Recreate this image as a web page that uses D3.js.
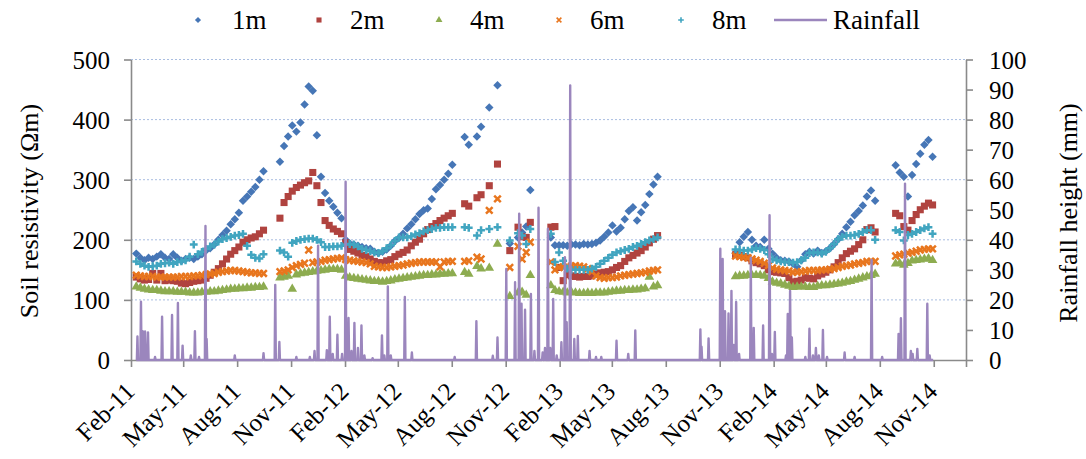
<!DOCTYPE html>
<html><head><meta charset="utf-8">
<script src="https://cdn.jsdelivr.net/npm/d3@7"></script>
</head><body style="margin:0;background:#fff">
<div style="position:relative;width:1086px;height:459px">
<svg id="chart" width="1086" height="459" style="position:absolute;left:0;top:0"></svg>
<svg id="texts" width="1086" height="459" style="position:absolute;left:0;top:0"></svg>
</div>
<script>
// ---------------- DATA ----------------
const seriesNames = ["1m", "2m", "4m", "6m", "8m"];
const startDate = "2011-02-10";   // first sampling date (weekly grid)
const stepDays = 7;
const G = n => Array(n).fill(null); // missing weeks (no measurements)
const _ = null;

const res1m = [
  177,170,166,170,168,172,176,170,168,176,170,165,168,170,168,172,176,182,186,192,200,208,215,226,234,245,265,272,280,288,300,314,
  ...G(3),
  330,356,372,390,380,395,425,455,448,374,305,278,265,255,245,236,200,194,192,190,188,186,185,180,178,180,184,190,198,203,210,219,226,234,243,249,252,268,284,291,300,310,325,
  _,_,371,358,_,372,388,_,420,_,457,_,_,194,_,204,212,222,283,_,_,_,_,204,191,191,
  191,190,192,192,191,193,192,193,195,199,205,212,224,214,220,234,248,254,232,246,258,276,292,305,
  ...G(18),
  178,196,205,213,200,190,188,200,185,177,170,166,165,164,160,155,166,176,180,177,182,178,181,186,193,201,210,221,230,241,248,257,272,282,265,
  ...G(4),
  324,312,305,272,308,326,343,358,366,338
];
const res2m = [
  138,135,133,134,144,133,144,132,133,132,131,128,127,129,131,132,133,136,141,146,152,160,168,176,182,188,196,200,203,205,210,216,
  ...G(3),
  236,262,272,281,287,291,295,298,312,290,262,232,224,218,214,210,195,184,181,178,174,172,168,164,162,162,165,167,172,176,179,183,190,196,201,210,217,222,227,232,236,240,244,
  _,_,260,256,_,270,275,_,290,_,326,_,_,182,_,221,205,204,229,_,_,_,_,221,222,154,
  132,142,140,139,138,139,139,140,143,145,146,147,150,154,157,164,170,174,178,182,188,195,201,207,
  ...G(18),
  175,174,172,170,165,162,160,157,150,147,146,145,144,137,130,131,133,137,136,135,140,143,146,150,155,162,170,177,181,185,192,200,217,220,213,
  ...G(4),
  244,240,222,216,232,242,250,256,261,258
];
const res4m = [
  122,120,118,117,116,116,115,114,114,114,113,113,113,112,112,112,113,113,114,114,115,116,117,118,118,119,119,120,120,121,121,122,
  ...G(3),
  137,138,140,118,142,144,145,146,147,148,149,150,151,151,151,150,140,137,136,135,134,133,132,131,131,130,131,132,134,135,136,137,138,139,140,141,141,142,142,143,143,144,144,
  _,_,146,143,_,156,152,_,153,_,193,_,_,106,_,112,113,108,141,_,_,_,_,124,116,114,
  113,112,113,112,111,111,112,111,112,112,112,113,114,115,115,116,116,117,117,118,119,138,122,124,
  ...G(18),
  139,140,140,141,141,141,141,140,136,130,128,127,125,123,121,122,122,122,121,121,123,124,124,125,126,127,128,130,131,133,135,137,139,141,143,
  ...G(4),
  160,161,158,161,165,166,167,168,169,166
];
const res6m = [
  141,140,139,139,139,138,138,138,138,138,138,139,139,139,140,140,141,142,143,144,146,147,148,149,149,148,147,146,145,145,144,144,
  ...G(3),
  147,148,150,154,157,159,161,183,162,163,164,166,167,168,169,170,167,166,165,164,163,162,160,156,155,154,154,155,156,157,158,160,161,162,163,163,163,163,163,155,163,164,164,
  _,_,164,165,_,171,168,_,249,_,268,_,_,154,_,189,168,179,196,_,_,_,_,163,150,154,
  155,156,156,157,156,155,152,147,140,137,136,137,137,138,140,141,142,143,144,145,146,148,149,150,
  ...G(18),
  173,172,171,170,168,166,164,161,157,153,151,150,149,148,146,146,147,148,149,149,149,150,150,151,152,154,156,157,158,160,161,162,164,164,164,
  ...G(4),
  173,175,176,178,179,181,183,184,185,185
];
const res8m = [
  164,160,157,155,156,157,160,161,162,160,163,164,166,172,192,176,180,185,189,192,197,201,203,205,207,208,210,190,175,170,169,176,
  ...G(3),
  182,179,172,195,198,200,201,202,202,200,196,188,188,189,189,190,192,193,192,189,185,183,181,179,178,181,186,191,198,204,204,204,206,209,211,214,216,218,220,220,221,221,221,
  _,_,221,220,_,207,216,_,218,_,221,_,_,199,_,211,207,193,218,_,_,_,_,210,163,179,
  165,152,150,150,150,150,150,152,155,160,165,170,175,179,181,183,185,188,190,193,196,199,201,204,
  ...G(18),
  184,183,182,182,184,186,185,183,176,168,166,164,163,163,162,163,166,170,178,179,179,177,180,186,193,201,205,207,207,208,210,213,216,216,200,
  ...G(4),
  216,213,199,208,210,213,216,219,221,210
];

// daily rainfall record: only rainy days listed, other days 0 mm
const rainStart = "2011-02-10", rainEnd = "2014-10-31";
const rainDates = ["2011-02-12","2011-02-18","2011-02-21","2011-02-25","2011-03-02","2011-03-14","2011-03-26","2011-04-12","2011-04-22","2011-04-30",
 "2011-05-14","2011-05-21","2011-05-28","2011-06-08","2011-06-10","2011-07-28","2011-09-15","2011-10-05","2011-10-12","2011-11-10",
 "2011-12-03","2011-12-11","2011-12-17","2012-01-01","2012-01-06","2012-01-11","2012-01-19","2012-01-27","2012-02-02","2012-02-07",
 "2012-02-12","2012-02-17","2012-02-23","2012-02-29","2012-03-05","2012-03-19","2012-04-04","2012-04-08","2012-04-14","2012-04-19",
 "2012-05-13","2012-05-25","2012-08-06","2012-09-12","2012-10-10","2012-10-18","2012-11-02","2012-11-17","2012-11-24","2012-11-28",
 "2012-12-04","2012-12-14","2012-12-20","2012-12-27","2013-01-03","2013-01-07","2013-01-12","2013-01-16","2013-01-21","2013-01-27",
 "2013-02-04","2013-02-10","2013-02-13","2013-02-19","2013-02-26","2013-03-04","2013-03-24","2013-04-04","2013-04-13","2013-05-09",
 "2013-05-29","2013-06-10","2013-09-29","2013-10-01","2013-10-13","2013-11-02","2013-11-06","2013-11-10","2013-11-16","2013-11-21",
 "2013-11-25","2013-11-29","2013-12-04","2013-12-24","2013-12-29","2014-01-14","2014-01-25","2014-01-29","2014-02-03","2014-02-22",
 "2014-02-25","2014-03-01","2014-03-04","2014-03-27","2014-04-03","2014-04-09","2014-04-14","2014-04-19","2014-04-26","2014-05-03",
 "2014-06-02","2014-06-19","2014-07-18","2014-08-05","2014-09-02","2014-09-06","2014-09-13","2014-09-23","2014-09-26","2014-10-04",
 "2014-10-21","2014-10-25"];
const rainMm = [7.8,19.4,9.6,9.5,9.2,1,14.4,15,19,4.8,
 1.5,9.6,1,44.6,7,1.5,2.3,25,6,1,
 1,3,38,3.3,14.4,2,8.4,2,59.3,14,
 3,12.3,4,11.5,1.5,0.6,8.2,1.5,24.5,1.5,
 21,2.5,1,12.9,1.4,7.5,30.3,25.9,48.7,18.7,
 16.7,22,3,50.7,2.5,4,43.7,4,20.3,1.5,
 5.9,34.2,12.6,91.4,7,8,3,1,1,6.4,
 2,9.8,10.2,4.4,7.2,37,33.6,16.2,15.5,23,
 5,19.3,2,34,10.7,11.5,48.2,2,9.3,1.5,
 15.3,23,7.5,1,10.4,1.5,4,1.5,10,1,
 2.5,1,33.3,1,8.7,13.9,58.7,3,2,3.7,
 18.7,1.5];

const xTickLabels = ["Feb-11","May-11","Aug-11","Nov-11","Feb-12","May-12","Aug-12","Nov-12",
  "Feb-13","May-13","Aug-13","Nov-13","Feb-14","May-14","Aug-14","Nov-14"];
const xDomain = ["2011-02-01", "2014-12-26"];
const leftTicks = [0,100,200,300,400,500];
const rightTicks = [0,10,20,30,40,50,60,70,80,90,100];
const legendLabels = ["1m","2m","4m","6m","8m","Rainfall"];

// ---------------- STYLE ----------------
const FONT = '"Liberation Serif"';
const colors = {"1m":"#4676b6","2m":"#b0433f","4m":"#8dac50","6m":"#e8761e","8m":"#41a5c0", rain:"#9b86bd"};
const plot = {left:131, right:966, top:59.5, bottom:360};
const tickFont = 25;
const axisColor = "#8a8a8a";

const parseISO = d3.utcParse("%Y-%m-%d");
const parseTick = d3.utcParse("%b-%y");

const svg = d3.select("#chart");
const tsvg = d3.select("#texts");   // text layer
const x = d3.scaleUtc().domain(xDomain.map(parseISO)).range([plot.left, plot.right]);
const yL = d3.scaleLinear().domain([0,500]).range([plot.bottom, plot.top]);
const yR = d3.scaleLinear().domain([0,100]).range([plot.bottom, plot.top]);
const tickDates = xTickLabels.map(parseTick);

// gridlines
svg.append("g").selectAll("line").data(leftTicks.filter(d=>d>0)).join("line")
  .attr("x1", plot.left).attr("x2", plot.right)
  .attr("y1", d=>yL(d)).attr("y2", d=>yL(d))
  .attr("stroke", "#a9bde0").attr("stroke-width", 1).attr("stroke-dasharray", "2,2");

// axes (lines and ticks from d3 axis generators; labels drawn on the text layer)
function styleAxis(g){
  g.attr("font-family", null).attr("font-size", null);
  g.selectAll("text").remove();
  g.select(".domain").attr("stroke", axisColor).attr("stroke-width", 1.6);
  g.selectAll(".tick line").attr("stroke", axisColor).attr("stroke-width", 1.6);
}
const gL = svg.append("g").attr("transform", `translate(${plot.left},0)`)
  .call(d3.axisLeft(yL).tickValues(leftTicks).tickSize(7).tickSizeOuter(0).tickFormat(""));
const gR = svg.append("g").attr("transform", `translate(${plot.right},0)`)
  .call(d3.axisRight(yR).tickValues(rightTicks).tickSize(7).tickSizeOuter(0).tickFormat(""));
const gB = svg.append("g").attr("transform", `translate(0,${plot.bottom})`)
  .call(d3.axisBottom(x).tickValues(tickDates.concat([x.domain()[1]])).tickSize(7).tickSizeOuter(0).tickFormat(""));
[gL, gR, gB].forEach(styleAxis);

// markers
const markerPath = {
  "1m": d3.symbol(d3.symbolSquare, 36)(),
  "2m": d3.symbol(d3.symbolSquare, 50)(),
  "4m": d3.symbol(d3.symbolTriangle, 40)(),
  "6m": "M-3.3,-3.3L3.3,3.3M-3.3,3.3L3.3,-3.3",
  "8m": "M-3.9,0H3.9M0,-3.9V3.9"
};
const markerRot = {"1m":45,"2m":0,"4m":0,"6m":0,"8m":0};
const strokeMarker = {"6m":true,"8m":true};

const start = parseISO(startDate);
const seriesData = {"1m":res1m,"2m":res2m,"4m":res4m,"6m":res6m,"8m":res8m};

seriesNames.forEach(name => {
  const pts = seriesData[name].map((v,i)=>({date:d3.utcDay.offset(start, i*stepDays), v}))
    .filter(d=>d.v !== null);
  const g = svg.append("g");
  const sel = g.selectAll("path").data(pts).join("path")
    .attr("d", markerPath[name])
    .attr("transform", d=>`translate(${x(d.date)},${yL(d.v)}) rotate(${markerRot[name]})`);
  if (strokeMarker[name]) sel.attr("fill","none").attr("stroke", colors[name]).attr("stroke-width", 2.5);
  else sel.attr("fill", colors[name]);
});

// rainfall line (daily values)
const rainMap = new Map(rainDates.map((d,i)=>[d, rainMm[i]]));
const fmt = d3.utcFormat("%Y-%m-%d");
const rainDaily = d3.utcDay.range(parseISO(rainStart), d3.utcDay.offset(parseISO(rainEnd),1))
  .map(d=>({date:d, v: rainMap.has(fmt(d)) ? rainMap.get(fmt(d)) : 0}));
svg.append("path").datum(rainDaily)
  .attr("fill","none").attr("stroke", colors.rain).attr("stroke-width", 2.4).attr("stroke-linejoin","round")
  .attr("d", d3.line().x(d=>x(d.date)).y(d=>yR(d.v)));

// legend symbols
const legendX = [198, 319, 439, 559, 681, 774];
const legendTextX = [232, 350, 470, 590, 712, 833];
const legY = 20;
const lg = svg.append("g");
legendLabels.forEach((lab,i)=>{
  if (lab === "Rainfall") {
    lg.append("line").attr("x1", legendX[i]).attr("x2", legendX[i]+53).attr("y1", legY).attr("y2", legY)
      .attr("stroke", colors.rain).attr("stroke-width", 2.4);
  } else {
    const p = lg.append("path").attr("d", markerPath[lab])
      .attr("transform", `translate(${legendX[i]},${legY}) rotate(${markerRot[lab]}) scale(0.72)`);
    if (strokeMarker[lab]) p.attr("fill","none").attr("stroke", colors[lab]).attr("stroke-width", 2.2);
    else p.attr("fill", colors[lab]);
  }
});

// ---------------- TEXT LAYER ----------------
legendLabels.forEach((lab,i)=>{
  tsvg.append("text").attr("x", legendTextX[i]).attr("y", legY + 9)
    .attr("font-family", FONT).attr("font-size", 27).text(lab);
});
tsvg.append("text").attr("transform", `translate(38,211) rotate(-90)`)
  .attr("text-anchor","middle").attr("font-family", FONT).attr("font-size", 26).text("Soil resistivity (Ωm)");
tsvg.append("text").attr("transform", `translate(1077,213) rotate(-90)`)
  .attr("text-anchor","middle").attr("font-family", FONT).attr("font-size", 26).text("Rainfall height (mm)");
leftTicks.forEach(d => {
  tsvg.append("text").attr("x", plot.left - 21).attr("y", yL(d) + 9).attr("text-anchor","end")
    .attr("font-family", FONT).attr("font-size", tickFont).text(d);
});
rightTicks.forEach(d => {
  tsvg.append("text").attr("x", plot.right + 23).attr("y", yR(d) + 9).attr("text-anchor","start")
    .attr("font-family", FONT).attr("font-size", tickFont).text(d);
});
xTickLabels.forEach((lab,i) => {
  tsvg.append("text")
    .attr("transform", `translate(${x(tickDates[i]) + 5},${plot.bottom + 33}) rotate(-45)`)
    .attr("text-anchor","end").attr("font-family", FONT).attr("font-size", tickFont).text(lab);
});
</script>
</body></html>
